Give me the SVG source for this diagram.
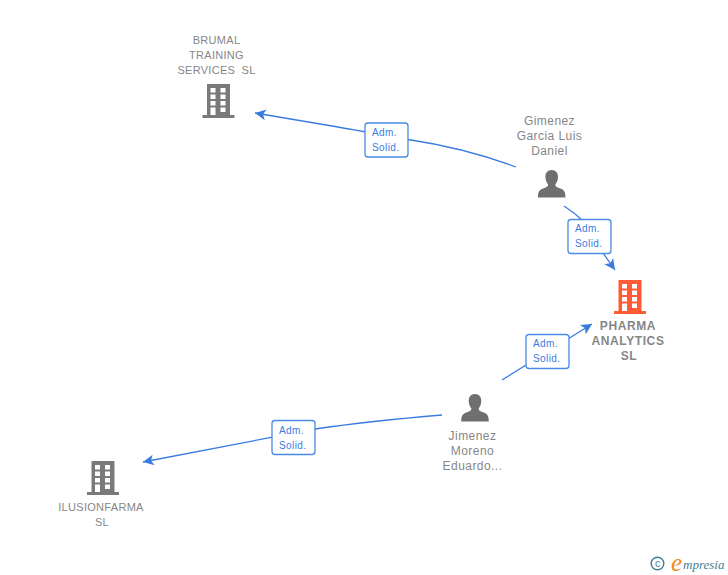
<svg xmlns="http://www.w3.org/2000/svg" width="728" height="575" viewBox="0 0 728 575">
<style>
text{font-family:"Liberation Sans",Arial,sans-serif}
.n{font-size:11px;fill:#868686;text-anchor:middle;letter-spacing:.3px}
.m{font-size:12px;letter-spacing:.45px}
.b{font-weight:700;font-size:12px;letter-spacing:.6px}
.l{font-size:10px;fill:#3a7be0;letter-spacing:.4px}
.c{fill:none;stroke:#3a7be0;stroke-width:1.300}
.lb{fill:#fff;stroke:#4a8ae6;stroke-width:1.300}
.w{fill:#fff}
</style>
<defs>
<marker id="a" viewBox="0 0 12 12" refX="11" refY="6" markerWidth="13" markerHeight="13" markerUnits="userSpaceOnUse" orient="auto"><path d="M11 6L1 1L3.500 6L1 11Z" fill="#3a7be0"/></marker>
<g id="bld">
<path d="M-11.500 0H11.500V31H16V34H-16V31H-11.500Z"/>
<path class="w" d="M-8 4h5v4.500h-5zM2 4h5v4.500h-5zM-8 10.500h5v4.500h-5zM2 10.500h5v4.500h-5zM-8 17h5v4.500h-5zM2 17h5v4.500h-5zM-8 23.500h5V31h-5zM2 23.500h5V28h-5z"/>
</g>
<path id="psn" d="M0 0C4.200 0 6.300 3 6.300 7C6.300 10.500 4.700 13 3.600 14.500C3.600 16.500 5 17.200 8 18.300C11.800 19.700 13.800 21 13.800 27.500H-13.800C-13.800 21 -11.800 19.700 -8 18.300C-5 17.200 -3.600 16.500 -3.600 14.500C-4.700 13 -6.300 10.500 -6.300 7C-6.300 3 -4.200 0 0 0Z" fill="#6f6f6f"/>
</defs>
<g id="connectors">
<path class="c" marker-end="url(#a)" d="M516 167Q465 148 408 139.500Q380 134 255 113"/>
<path class="c" marker-end="url(#a)" d="M564 206Q575 213 583 221L603 253L615 270"/>
<path class="c" marker-end="url(#a)" d="M502 380L592 324"/>
<path class="c" marker-end="url(#a)" d="M442 415Q370 421 315 429L143 462"/>
</g>
<g id="node-brumal">
<text class="n" x="216.500" y="44">BRUMAL</text>
<text class="n" x="216.500" y="59">TRAINING</text>
<text class="n" x="216.500" y="74">SERVICES  <tspan dx="3">SL</tspan></text>
<use href="#bld" x="218.500" y="84" fill="#7a7a7a"/>
</g>
<g id="node-gimenez">
<text class="n m" x="549.500" y="125">Gimenez</text>
<text class="n m" x="549.500" y="140">Garcia Luis</text>
<text class="n m" x="549.500" y="155">Daniel</text>
<use href="#psn" x="551.700" y="170"/>
</g>
<g id="node-pharma">
<use href="#bld" x="630" y="280" fill="#ff5c35"/>
<text class="n b" x="628" y="330">PHARMA</text>
<text class="n b" x="628" y="345">ANALYTICS</text>
<text class="n b" x="629" y="360">SL</text>
</g>
<g id="node-jimenez">
<use href="#psn" x="475" y="394"/>
<text class="n m" x="472.500" y="440">Jimenez</text>
<text class="n m" x="472.500" y="455">Moreno</text>
<text class="n m" x="472.500" y="470">Eduardo...</text>
</g>
<g id="node-ilusion">
<use href="#bld" x="103" y="461" fill="#7a7a7a"/>
<text class="n" x="101" y="511">ILUSIONFARMA</text>
<text class="n" x="102" y="526">SL</text>
</g>
<g id="label-1"><rect class="lb" x="365" y="123" width="43" height="34" rx="3"/><text class="l" x="372" y="136">Adm.</text><text class="l" x="372" y="151">Solid.</text></g>
<g id="label-2"><rect class="lb" x="568" y="219.500" width="43" height="34" rx="3"/><text class="l" x="575" y="232">Adm.</text><text class="l" x="575" y="247">Solid.</text></g>
<g id="label-3"><rect class="lb" x="526" y="334.500" width="43" height="34" rx="3"/><text class="l" x="533" y="347">Adm.</text><text class="l" x="533" y="362">Solid.</text></g>
<g id="label-4"><rect class="lb" x="272" y="420.500" width="43" height="34" rx="3"/><text class="l" x="279" y="434">Adm.</text><text class="l" x="279" y="449">Solid.</text></g>
<g id="logo">
<circle cx="657.500" cy="563.500" r="6.300" fill="none" stroke="#3f7f95" stroke-width="1.400"/>
<text x="657.500" y="567" font-size="10.500" text-anchor="middle" fill="#3f7f95">c</text>
<text x="671" y="571" font-size="25" font-style="italic" fill="#f08a1d" style="font-family:'Liberation Serif',serif">e</text>
<text x="683" y="568.500" font-size="13" font-style="italic" fill="#3f7f95" style="font-family:'Liberation Serif',serif">mpresia</text>
</g>
</svg>
